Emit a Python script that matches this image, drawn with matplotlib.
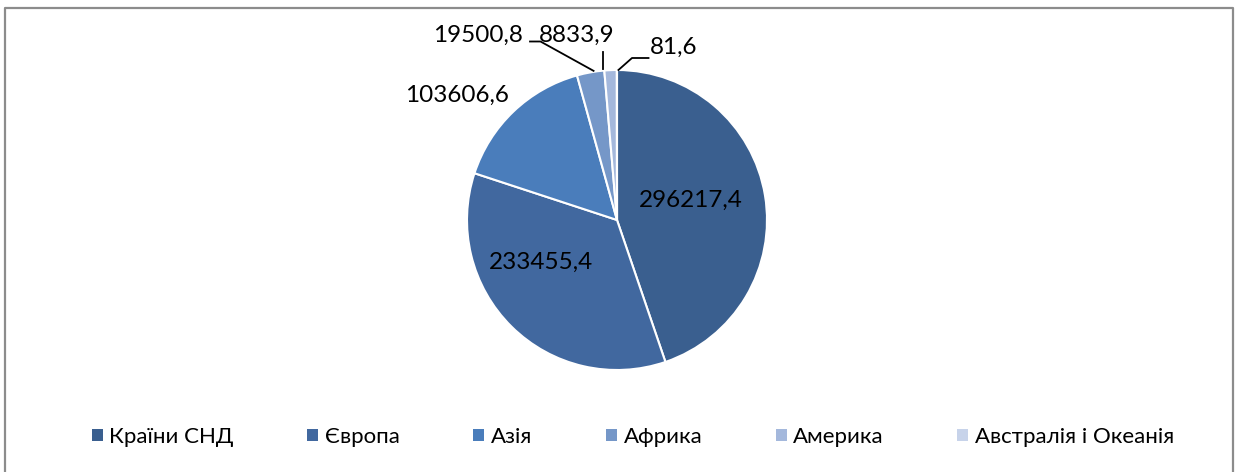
import numpy as np
import matplotlib.pyplot as plt
from matplotlib.patches import Rectangle
from matplotlib.lines import Line2D

plt.rcParams['font.family'] = ['Lato', 'DejaVu Sans']

regions = ['Країни СНД', 'Європа', 'Азія', 'Африка', 'Америка', 'Австралія і Океанія']
values = [296217.4, 233455.4, 103606.6, 19500.8, 8833.9, 81.6]
labels = ['296217,4', '233455,4', '103606,6', '19500,8', '8833,9', '81,6']
colors = ['#3a5f8f', '#41689f', '#4a7dbb', '#7597c8', '#a4b8dc', '#c7d3ea']

W, H = 1236, 472
fig = plt.figure(figsize=(W / 100, H / 100), dpi=100)

# chart frame (no bottom edge visible in the source)
fig.add_artist(Line2D([5 / W, 5 / W, 1233 / W, 1233 / W], [0, 1 - 8 / H, 1 - 8 / H, 0],
                      transform=fig.transFigure, color='#8c8c8c', lw=1.6))

# pie: centre (617, 220) px, radius 150 px
cx, cy, r = 617, 220, 150
side = 400
ax = fig.add_axes([(cx - side / 2) / W, (H - cy - side / 2) / H, side / W, side / H])
wedges, _ = ax.pie(values, colors=colors, startangle=90, counterclock=False,
                   wedgeprops=dict(edgecolor='white', linewidth=1.5))
lim = side / 2 / r
ax.set_xlim(-lim, lim)
ax.set_ylim(-lim, lim)
ax.set_aspect('equal')
ax.axis('off')

fs = 17.5
# label text positions (data units, radius = 1)
text_pos = [(0.49, 0.13), (-0.51, -0.28), (-1.07, 0.83), (-0.93, 1.23), (-0.27, 1.23), (0.38, 1.15)]
for lab, (tx, ty) in zip(labels, text_pos):
    ax.text(tx, ty, lab, ha='center', va='center', fontsize=fs, color='black')

# leader lines for the small slices
def edge(w):
    a = np.deg2rad((w.theta1 + w.theta2) / 2)
    return np.cos(a), np.sin(a)

x3, y3 = edge(wedges[3])
ax.plot([-0.58, -0.51, x3 + 0.02], [1.19, 1.19, y3 + 0.01], color='black', lw=1.3)
x4, y4 = edge(wedges[4])
ax.plot([x4 - 0.05, x4 - 0.05], [y4 + 0.01, 1.12], color='black', lw=1.3)
x5, y5 = edge(wedges[5])
ax.plot([x5 + 0.01, 0.10, 0.21], [y5, 1.08, 1.08], color='black', lw=1.3)

handles = [Rectangle((0, 0), 1, 1, facecolor=c, edgecolor='none') for c in colors]
fig.legend(handles, regions, loc='center', bbox_to_anchor=(633 / W, 1 - 437 / H), ncol=6,
           frameon=False, fontsize=16, handlelength=0.5, handleheight=0.5,
           handletextpad=0.3, columnspacing=3.3)

fig.savefig('out.png', dpi=100)
